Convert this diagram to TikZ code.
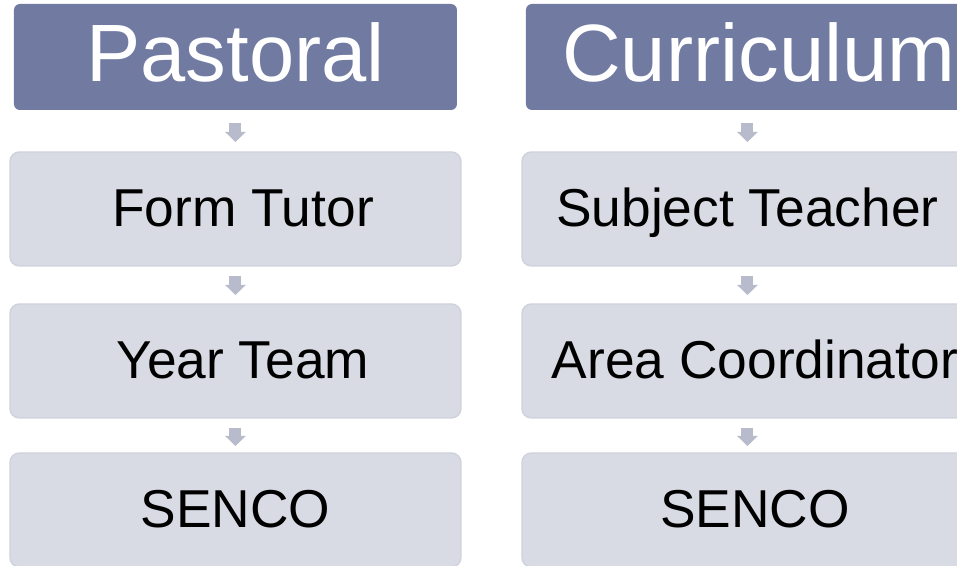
\documentclass[tikz,border=0pt]{standalone}
\usepackage{fontspec}
\setmainfont{Liberation Sans}
\usetikzlibrary{positioning}
\usetikzlibrary{arrows.meta}
\definecolor{headblue}{HTML}{717BA2}
\definecolor{boxgrey}{HTML}{D8DBE4}
\definecolor{boxline}{HTML}{CFD2DC}
\definecolor{arrowgrey}{HTML}{B7BBCC}

\begin{document}
\begin{tikzpicture} [head/.style = {fill=headblue, rounded corners=4.5pt, outer sep=0pt,
                         minimum width=332.25pt, minimum height=79.5pt, inner sep=0pt,
                         text height=43.7pt, text depth=7.5pt,
                         text=white, font=\fontsize{61}{61}\selectfont},
                     item/.style = {fill=boxgrey, draw=boxline, line width=1pt, rounded corners=7pt,
                         outer sep=0pt, minimum width=338.25pt, minimum height=85.5pt, inner sep=0pt,
                         text height=28.6pt, text depth=3pt,
                         font=\fontsize{40}{40}\selectfont},
                     flow/.style = {arrowgrey, line width=9pt, -{Triangle[width=15pt, length=7.5pt]},
                         shorten <=7.5pt, shorten >=6.75pt}]
        \path[use as bounding box, clip] (0pt,0pt) rectangle (717.75pt,-424.5pt);

        %Pastoral
        \node[head] (past) at (176.6pt,-42.75pt) {Pastoral};
        \node[item] (tutor) [below = 31.5pt of past] {~Form Tutor};
        \node[item] (year) [below = 28.5pt of tutor] {~Year Team};
        \node[item] (senp) [below = 26.25pt of year] {SENCO};

        %Curriculum
        \node[head] (curr) at (560.6pt,-42.75pt) {~Curriculum};
        \node[item] (subj) [below = 31.5pt of curr] {Subject Teacher};
        \node[item] (area) [below = 28.5pt of subj] {~Area Coordinator};
        \node[item] (senc) [below = 26.25pt of area] {~SENCO};

        %Pfeile
        \draw[flow, shorten <=9.75pt, shorten >=7.5pt] (past) -- (tutor);
        \draw[flow] (tutor) -- (year);
        \draw[flow, shorten >=5.25pt] (year) -- (senp);

        \draw[flow, shorten <=9.75pt, shorten >=7.5pt] (curr) -- (subj);
        \draw[flow] (subj) -- (area);
        \draw[flow, shorten >=5.25pt] (area) -- (senc);
    \end{tikzpicture}
\end{document}
